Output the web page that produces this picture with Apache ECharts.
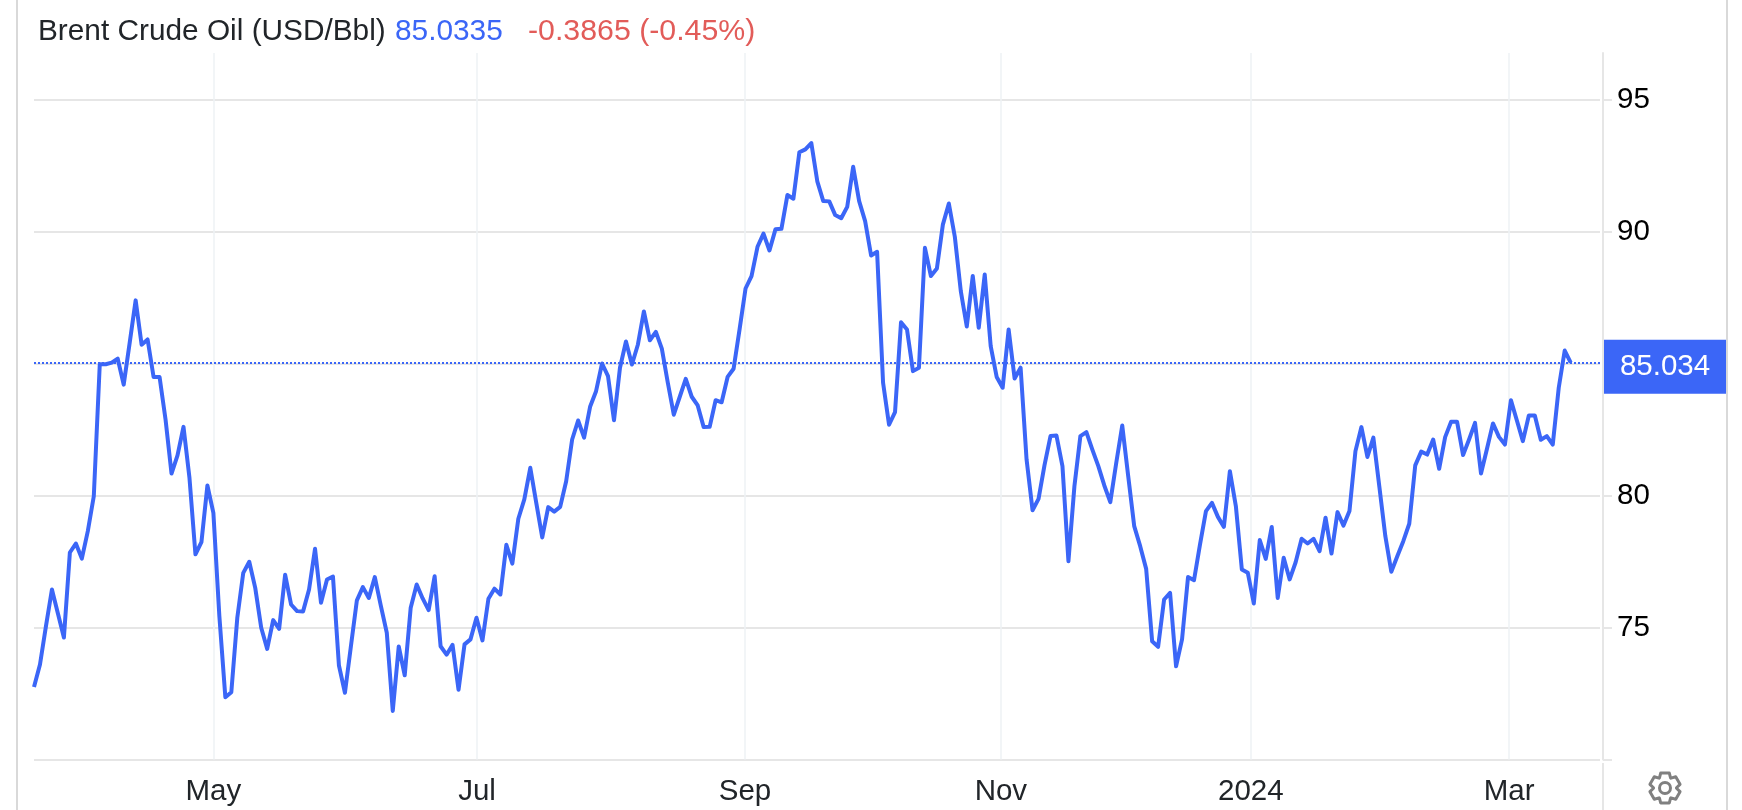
<!DOCTYPE html>
<html>
<head>
<meta charset="utf-8">
<style>html,body{margin:0;padding:0;background:#fff}#c{width:1742px;height:810px}</style>
<script src="https://cdn.jsdelivr.net/npm/echarts@6/dist/echarts.min.js"></script>
</head>
<body>
<div id="c"></div>
<script>
const prices = [
72.75,73.60,75.05,76.44,75.53,74.62,77.84,78.18,77.61,78.65,
79.97,84.97,84.97,85.03,85.18,84.20,85.78,87.39,85.71,85.91,
84.49,84.49,82.88,80.83,81.52,82.60,80.67,77.77,78.23,80.38,
79.34,75.43,72.36,72.55,75.37,77.07,77.49,76.50,74.99,74.19,
75.28,74.95,77.00,75.87,75.62,75.61,76.44,77.98,75.94,76.82,
76.93,73.56,72.53,74.29,76.03,76.53,76.12,76.91,75.83,74.80,
71.84,74.28,73.19,75.75,76.63,76.10,75.66,76.94,74.29,73.97,
74.34,72.64,74.36,74.55,75.37,74.51,76.09,76.47,76.25,78.13,
77.42,79.12,79.85,81.05,79.72,78.41,79.56,79.39,79.57,80.54,
82.12,82.84,82.19,83.36,83.95,85.00,84.52,82.85,84.84,85.83,
84.96,85.72,86.97,85.88,86.20,85.56,84.27,83.06,83.74,84.42,
83.74,83.41,82.59,82.60,83.61,83.53,84.49,84.80,86.29,87.84,
88.31,89.42,89.92,89.28,90.08,90.10,91.38,91.24,93.00,93.11,
93.35,91.90,91.15,91.14,90.62,90.50,90.93,92.45,91.15,90.39,
89.09,89.23,84.27,82.68,83.16,86.56,86.29,84.71,84.84,89.38,
88.31,88.60,90.26,91.06,89.80,87.74,86.40,88.31,86.35,88.37,
85.66,84.49,84.08,86.29,84.43,84.84,81.36,79.44,79.87,81.15,
82.25,82.27,81.11,77.51,80.35,82.25,82.40,81.74,81.11,80.38,
79.75,81.24,82.65,80.73,78.84,78.08,77.22,74.48,74.27,76.06,
76.31,73.53,74.55,76.91,76.79,78.14,79.41,79.72,79.19,78.81,
80.92,79.60,77.20,77.07,75.91,78.31,77.60,78.81,76.12,77.64,
76.82,77.47,78.36,78.18,78.36,77.89,79.16,77.80,79.37,78.86,
79.41,81.68,82.59,81.46,82.19,80.33,78.46,77.11,77.70,78.27,
78.93,81.14,81.66,81.55,82.12,81.01,82.21,82.79,82.79,81.53,
82.12,82.75,80.83,81.77,82.73,82.22,81.93,83.61,82.84,82.06,
83.03,83.03,82.11,82.25,81.93,84.08,85.49,85.03
];
// Month gridlines sit between trading days, so they are given in trading-day units.
const monthPositions = [30, 74.1, 118.9, 161.7, 203.5, 246.7];
const monthLabels = ['May', 'Jul', 'Sep', 'Nov', '2024', 'Mar'];
const yTicks = [70, 75, 80, 85, 90, 95];
const yLabels = [75, 80, 90, 95];
const titleName = 'Brent Crude Oil (USD/Bbl)';
const lastPriceText = '85.0335';
const changeText = '-0.3865 (-0.45%)';
const lastPrice = 85.0335;
const lastTag = '85.034';

const BLUE = '#3B66F7';
const FONT = '"Liberation Sans", Arial, sans-serif';
const chart = echarts.init(document.getElementById('c'), null, {renderer: 'canvas'});

function gearPoints(cx, cy, rOut, rIn, teeth) {
  const pts = [];
  const step = Math.PI * 2 / teeth;
  for (let t = 0; t < teeth; t++) {
    const a = t * step - Math.PI / 2;
    [[-0.48, rIn], [-0.27, rOut], [0.27, rOut], [0.48, rIn]].forEach(([f, r]) => {
      pts.push([cx + r * Math.cos(a + f * step), cy + r * Math.sin(a + f * step)]);
    });
  }
  return pts;
}

chart.setOption({
  animation: false,
  backgroundColor: '#fff',
  title: [
    {text: titleName, left: 38, top: 17, padding: 0, textStyle: {fontFamily: FONT, fontSize: 29.8, fontWeight: 'normal', color: '#212529'}},
    {text: lastPriceText, left: 395, top: 17, padding: 0, textStyle: {fontFamily: FONT, fontSize: 29.8, fontWeight: 'normal', color: BLUE}},
    {text: changeText, left: 528, top: 17, padding: 0, textStyle: {fontFamily: FONT, fontSize: 30.3, fontWeight: 'normal', color: '#E25C59'}}
  ],
  grid: {left: 34, right: 142, top: 53, bottom: 50.5, containLabel: false},
  xAxis: {
    type: 'value', min: 0, max: 261.9,
    axisLine: {show: false},
    axisTick: {show: false, customValues: monthPositions},
    axisLabel: {
      customValues: monthPositions,
      margin: 17,
      fontFamily: FONT, fontSize: 29.5, color: '#212529',
      formatter: v => monthLabels[monthPositions.indexOf(v)] || ''
    },
    splitLine: {show: true, lineStyle: {color: '#EEF2F5', width: 1.5}}
  },
  yAxis: {
    type: 'value', position: 'right', min: 70, max: 96.76, offset: 3,
    axisLine: {show: true, onZero: false, lineStyle: {color: '#E6E6E6', width: 2}},
    axisTick: {show: true, length: 9, customValues: yTicks, lineStyle: {color: '#E6E6E6', width: 2}},
    axisLabel: {
      customValues: yLabels, margin: 14, padding: [2, 0, 0, 0],
      fontFamily: FONT, fontSize: 29.5, color: '#000'
    },
    splitLine: {show: true, lineStyle: {color: '#E6E6E6', width: 2}}
  },
  series: [{
    type: 'line',
    data: prices.map((p, i) => [i, p]),
    showSymbol: false,
    symbol: 'none',
    smooth: false,
    lineStyle: {color: BLUE, width: 4, join: 'round'},
    markLine: {
      silent: true, symbol: 'none', animation: false,
      lineStyle: {color: BLUE, type: [2, 2], width: 2},
      label: {
        show: true, position: 'end', distance: 4, offset: [61, 4],
        formatter: lastTag,
        fontFamily: FONT, fontSize: 29.5, color: '#fff',
        backgroundColor: BLUE, width: 122, height: 54, lineHeight: 54, align: 'center'
      },
      data: [{yAxis: lastPrice}]
    }
  }],
  graphic: [
    {type: 'rect', silent: true, shape: {x: 16, y: 0, width: 2, height: 810}, style: {fill: '#D9D9D9'}},
    {type: 'rect', silent: true, shape: {x: 1726, y: 0, width: 2, height: 810}, style: {fill: '#D9D9D9'}},
    {type: 'rect', silent: true, shape: {x: 1602, y: 763, width: 2, height: 47}, style: {fill: '#E6E6E6'}},
    {type: 'polygon', silent: true, shape: {points: gearPoints(1665, 788, 15.5, 11.5, 6)}, style: {fill: 'none', stroke: '#808080', lineWidth: 3, lineJoin: 'round'}},
    {type: 'circle', silent: true, shape: {cx: 1665, cy: 788, r: 5.5}, style: {fill: 'none', stroke: '#808080', lineWidth: 3}}
  ]
});
</script>
</body>
</html>
